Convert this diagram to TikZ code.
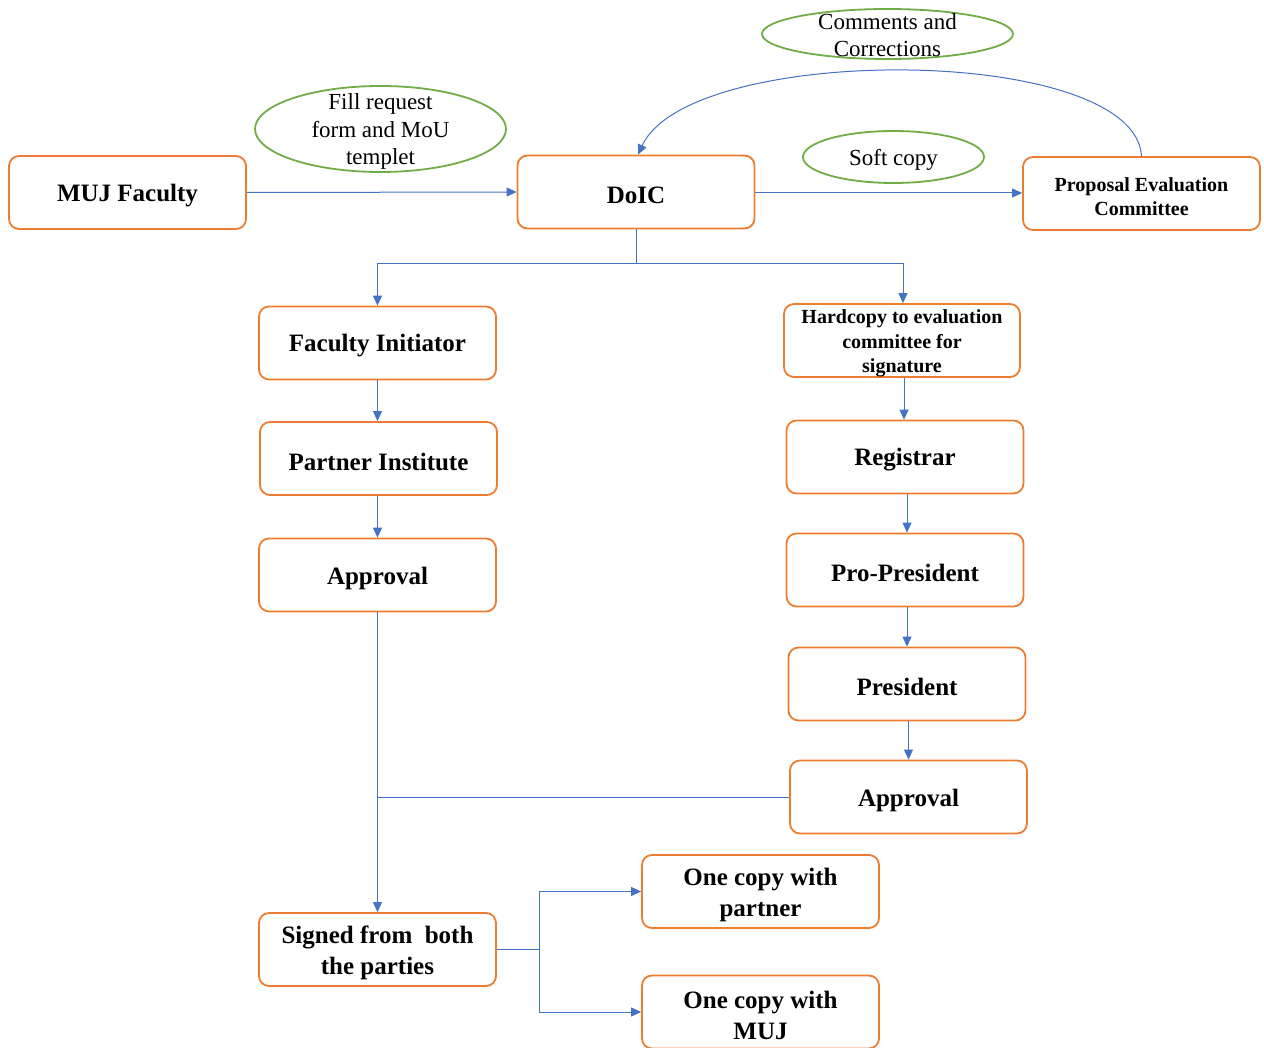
\documentclass[tikz,border=0pt]{standalone}
\usepackage{fontspec}
\setmainfont{Liberation Serif}
\usetikzlibrary{arrows.meta,shapes.geometric}
\definecolor{boxorange}{HTML}{ED7D31}
\definecolor{ovalgreen}{HTML}{70AD47}
\definecolor{linkblue}{HTML}{4472C4}
\begin{document}
\begin{tikzpicture}[x=1pt,y=-1pt,
  box/.style={draw=boxorange, line width=1.8pt, rounded corners=10pt,
    minimum width=237pt, minimum height=73pt, inner sep=0pt},
  bigtext/.style={align=center, inner sep=0pt, yshift=-3pt,
    font=\fontsize{25}{31}\selectfont\bfseries},
  smalltext/.style={bigtext, font=\fontsize{20}{24.5}\selectfont\bfseries},
  oval/.style={draw=ovalgreen, line width=1.8pt, ellipse, inner sep=0pt},
  ovaltext/.style={align=center, inner sep=0pt, font=\fontsize{23}{27.5}\selectfont},
  conn/.style={draw=linkblue, line width=1pt},
  arr/.style={conn, -{Triangle[length=10pt,width=9pt]}}
]
\fill[white] (0,0) rectangle (1264,1048);
\useasboundingbox (0,0) rectangle (1264,1048);

% boxes
\node[box, label={[bigtext]center:MUJ Faculty}] (muj) at (127.5,192.5) {};
\node[box, label={[bigtext]center:DoIC}] (doic) at (636,192) {};
\node[box, label={[smalltext]center:{Proposal Evaluation\\Committee}}] (pec) at (1141.5,193.5) {};
\node[box, label={[bigtext]center:Faculty Initiator}] (fi) at (377.5,343) {};
\node[box, label={[bigtext]center:Partner Institute}] (pi) at (378.5,458.5) {};
\node[box, label={[bigtext]center:Approval}] (appl) at (377.5,575) {};
\node[box, minimum width=236pt, label={[smalltext]center:{Hardcopy to evaluation\\committee for\\signature}}] (hc) at (902,340.5) {};
\node[box, label={[bigtext]center:Registrar}] (reg) at (905,457) {};
\node[box, label={[bigtext]center:Pro-President}] (pro) at (905,570) {};
\node[box, label={[bigtext]center:President}] (pres) at (907,684) {};
\node[box, label={[bigtext]center:Approval}] (appr) at (908.5,797) {};
\node[box, label={[bigtext]center:{Signed from\ \ both\\the parties}}] (sign) at (377.5,949.5) {};
\node[box, label={[bigtext]center:{One copy with\\partner}}] (ocp) at (760.5,891.5) {};
\node[box, label={[bigtext]center:{One copy with\\MUJ}}] (ocm) at (760.5,1012) {};

% ovals
\node[oval, minimum width=251pt, minimum height=86pt] (fill) at (380.5,129) {};
\node[ovaltext] (filltext) at (380.5,131.5) {Fill request\\form and MoU\\templet};
\node[oval, minimum width=251pt, minimum height=50pt] (comm) at (887.5,34) {};
\node[ovaltext] (commtext) at (887.5,35) {Comments and\\Corrections};
\node[oval, minimum width=181pt, minimum height=52pt] (soft) at (893.5,157) {};
\node[ovaltext] (softtext) at (893.5,160) {Soft copy};

% connectors
\draw[arr] (muj.east) -- (doic.west);
\draw[arr] (doic.east |- 0,193) -- (pec.west |- 0,193);
\draw[arr] (pec.north) .. controls (1135,44) and (690,42) .. ([xshift=2pt]doic.north);
\draw[conn] (doic.south) -- ++(0,34) coordinate (split);
\draw[arr] (split) -| (fi.north);
\draw[arr] (split) -| ([xshift=1pt]hc.north);
\draw[arr] (fi.south) -- (fi.south |- pi.north);
\draw[arr] (fi.south |- pi.south) -- (fi.south |- appl.north);
\draw[arr] ([xshift=2pt]hc.south) -- ([xshift=2pt]hc.south |- reg.north);
\draw[arr] ([xshift=2pt]reg.south) -- ([xshift=2pt]reg.south |- pro.north);
\draw[arr] ([xshift=2pt]pro.south) -- ([xshift=2pt]pro.south |- pres.north);
\draw[arr] ([xshift=1.5pt]pres.south) -- ([xshift=1.5pt]pres.south |- appr.north);
\draw[arr] (appl.south) -- (appl.south |- sign.north);
\draw[conn] (appr.west) -- (appl.south |- appr.west);
\draw[conn] (sign.east) -- ++(43,0) coordinate (sp);
\draw[arr] (sp) |- (ocp.west);
\draw[arr] (sp) |- (ocm.west);
\end{tikzpicture}
\end{document}
